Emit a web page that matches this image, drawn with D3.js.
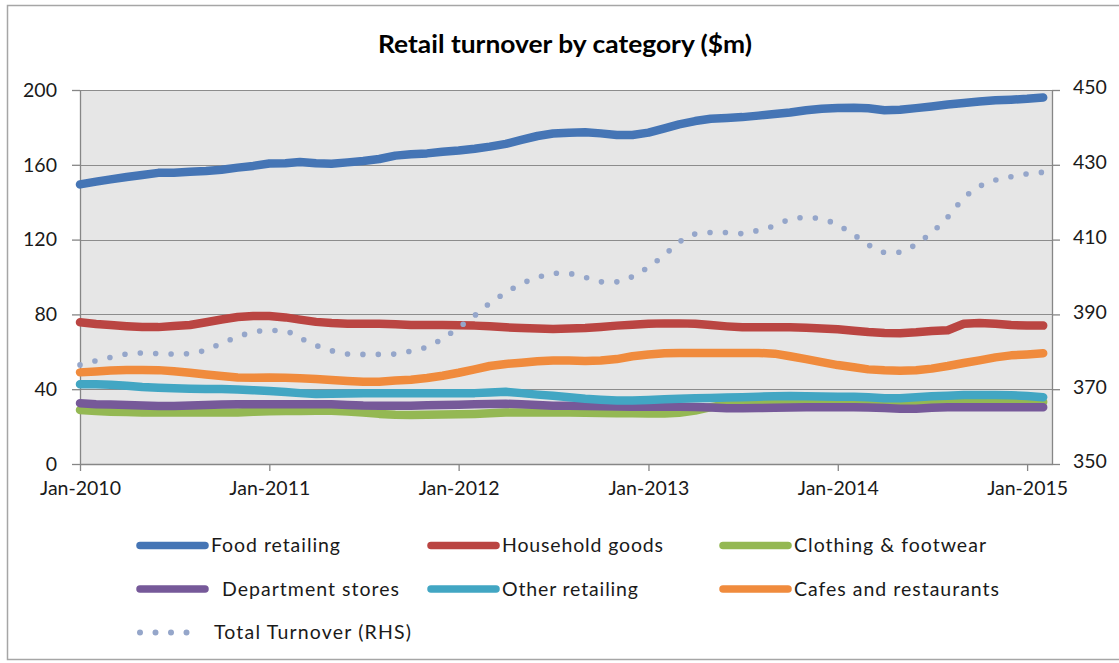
<!DOCTYPE html>
<html>
<head>
<meta charset="utf-8">
<script src="https://cdn.jsdelivr.net/npm/d3@7"></script>
<style>
  body { margin: 0; background: #ffffff; }
  svg text { font-family: Lato, "Open Sans", sans-serif; fill: #1a1a1a; }
</style>
</head>
<body>
<svg id="chart" width="1119" height="663"></svg>
<script>
// ---- data -------------------------------------------------------------
const chartTitle = "Retail turnover by category ($m)";
const firstMonth = new Date(2010, 0, 1);
const lastMonth = new Date(2015, 1, 1);
const axisEnd = new Date(2015, 1, 18);
const xTickLabels = ["Jan-2010", "Jan-2011", "Jan-2012", "Jan-2013", "Jan-2014", "Jan-2015"];
const leftTicks = [0, 40, 80, 120, 160, 200];
const rightTicks = [350, 370, 390, 410, 430, 450];

const foodRetailing = [149.5, 151, 152.2, 153.5, 154.5, 155.7, 155.8, 156.3, 156.7, 157.4,
  158.5, 159.4, 160.7, 160.8, 161.5, 160.8, 160.6, 161.3, 162, 163.1,
  164.9, 165.6, 166.1, 167, 167.7, 168.6, 169.7, 171.2, 173.3, 175.4,
  176.7, 177.2, 177.4, 176.8, 175.9, 175.9, 177.2, 179.5, 181.6, 183.4,
  184.6, 185, 185.5, 186.3, 187.2, 188, 189.2, 190, 190.4, 190.5,
  190.2, 189.2, 189.4, 190.3, 191.2, 192.2, 193, 193.8, 194.5, 194.8,
  195.3, 196];
const householdGoods = [75.8, 74.9, 74.3, 73.7, 73.3, 73.2, 73.8, 74.3, 75.8, 77.3,
  78.6, 79.2, 79.1, 78.4, 77.2, 76, 75.4, 75, 75, 75,
  74.7, 74.3, 74.3, 74.3, 74.2, 74, 73.6, 73.1, 72.7, 72.4,
  72.2, 72.4, 72.7, 73.3, 74, 74.5, 75, 75.2, 75.2, 75,
  74.3, 73.6, 73.1, 73.1, 73.1, 73.1, 72.9, 72.5, 72, 71.3,
  70.6, 70.1, 69.9, 70.4, 71.1, 71.5, 75, 75.4, 75, 74.3,
  74, 74];
const clothingFootwear = [28.9, 28.3, 28, 27.8, 27.6, 27.6, 27.6, 27.6, 27.6, 27.6,
  27.6, 27.9, 28.2, 28.3, 28.3, 28.5, 28.5, 28.1, 27.5, 26.8,
  26.4, 26.2, 26.3, 26.5, 26.6, 26.8, 27.1, 27.5, 27.6, 27.6,
  27.6, 27.5, 27.4, 27.3, 27.2, 27.1, 27, 27, 27.4, 28.6,
  30.4, 31.8, 32.6, 33, 33, 33, 33.1, 33.2, 33.3, 33.2,
  33, 32.8, 32.9, 33, 33.2, 33.3, 33.4, 33.4, 33.5, 33.4,
  33.3, 33.2];
const departmentStores = [32.5, 32, 31.8, 31.6, 31.3, 31, 31, 31.3, 31.6, 31.8,
  31.9, 31.9, 31.9, 31.9, 31.9, 32, 31.9, 31.6, 31.3, 31.2,
  31.2, 31.2, 31.4, 31.6, 31.7, 31.9, 32.1, 32.2, 31.9, 31.5,
  31.2, 31.1, 31, 30.9, 30.8, 30.6, 30.6, 30.6, 30.6, 30.5,
  30.2, 29.8, 29.8, 29.9, 30.1, 30.2, 30.3, 30.3, 30.3, 30.3,
  30.2, 29.9, 29.6, 29.6, 30.1, 30.4, 30.4, 30.4, 30.4, 30.4,
  30.4, 30.4];
const otherRetailing = [42.6, 42.6, 42.4, 41.8, 41.2, 40.8, 40.5, 40.3, 40.1, 40.1,
  39.9, 39.5, 39, 38.5, 37.9, 37.4, 37.6, 37.7, 37.8, 37.8,
  37.8, 37.8, 37.8, 37.8, 37.8, 37.9, 38.2, 38.6, 37.9, 37.1,
  36.5, 35.7, 34.9, 34.4, 34, 33.9, 34.2, 34.6, 34.9, 35.1,
  35.3, 35.5, 35.7, 36, 36.2, 36.3, 36.2, 36.1, 36, 36,
  35.7, 35.1, 35.1, 35.7, 36.2, 36.5, 36.9, 36.9, 36.9, 36.8,
  36.4, 35.7];
const cafesRestaurants = [49, 49.5, 50, 50.3, 50.3, 50.2, 49.6, 48.8, 47.9, 47.1,
  46.3, 46.1, 46.2, 46.1, 45.8, 45.4, 44.9, 44.4, 44, 44,
  44.6, 45.1, 46, 47.2, 48.8, 50.6, 52.4, 53.5, 54.2, 54.9,
  55.4, 55.3, 55.1, 55.3, 56.1, 57.6, 58.6, 59.2, 59.4, 59.4,
  59.4, 59.4, 59.4, 59.4, 59, 57.6, 56.1, 54.5, 52.9, 51.7,
  50.6, 50.1, 49.9, 50.1, 51, 52.4, 54, 55.4, 57, 58.1,
  58.6, 59.2];
const totalTurnover = [376.5, 377.6, 378.5, 379.4, 379.7, 379.5, 379.4, 379.5, 380.5, 382.3,
  384, 385.3, 385.7, 385.5, 383.7, 381.7, 380.3, 379.4, 379.3, 379.3,
  379.4, 380.2, 381.3, 383.5, 386.5, 389.7, 393, 395.8, 398.2, 399.8,
  401, 400.9, 399.9, 398.7, 398.7, 400.1, 402.7, 405.9, 409.3, 411.5,
  411.9, 411.9, 411.6, 412.5, 413.7, 415.4, 415.9, 415.5, 413.9, 411.3,
  408.6, 406.6, 406.6, 408.8, 411.9, 416, 421.1, 424.2, 425.9, 426.8,
  427.6, 428];

const months = d3.timeMonth.range(firstMonth, d3.timeMonth.offset(lastMonth, 1));

const categorySeries = [
  { name: "Food retailing", values: foodRetailing, color: "#4575b5" },
  { name: "Household goods", values: householdGoods, color: "#ba4542" },
  { name: "Clothing & footwear", values: clothingFootwear, color: "#94b853" },
  { name: "Department stores", values: departmentStores, color: "#765999" },
  { name: "Other retailing", values: otherRetailing, color: "#42a6c3" },
  { name: "Cafes and restaurants", values: cafesRestaurants, color: "#f08b3d" }
];
const totalSeries = { name: "Total Turnover (RHS)", values: totalTurnover, color: "#95a6ca" };

// ---- layout -----------------------------------------------------------
const svg = d3.select("#chart");
const plot = { left: 80, right: 1052, top: 90, bottom: 464 };
const axisColor = "#868686";

const x = d3.scaleTime().domain([firstMonth, axisEnd]).range([plot.left, plot.right]);
const yLeft = d3.scaleLinear().domain([0, 200]).range([plot.bottom, plot.top]);
const yRight = d3.scaleLinear().domain([350, 450]).range([plot.bottom, plot.top]);

// outer chart frame
svg.append("rect")
  .attr("x", 7.5).attr("y", 5.5)
  .attr("width", 1130).attr("height", 654)
  .attr("fill", "#ffffff")
  .attr("stroke", "#a6a6a6").attr("stroke-width", 1.5);

// title
svg.append("text")
  .attr("x", 378).attr("y", 53)
  .attr("textLength", 374)
  .attr("lengthAdjust", "spacingAndGlyphs")
  .style("font-size", "24px").style("font-weight", "bold")
  .style("fill", "#000")
  .text(chartTitle);

// plot area background
svg.append("rect")
  .attr("x", plot.left).attr("y", plot.top)
  .attr("width", plot.right - plot.left).attr("height", plot.bottom - plot.top)
  .attr("fill", "#e6e6e6");

// horizontal gridlines
svg.append("g").selectAll("line")
  .data(leftTicks.filter(d => d > 0))
  .join("line")
  .attr("x1", plot.left).attr("x2", plot.right)
  .attr("y1", d => Math.round(yLeft(d)) + 0.5).attr("y2", d => Math.round(yLeft(d)) + 0.5)
  .attr("stroke", "#8c8c8c").attr("stroke-width", 1.2);

// axes
const janDates = xTickLabels.map(s => d3.timeParse("%b-%Y")(s));
const xAxis = d3.axisBottom(x)
  .tickValues(janDates)
  .tickFormat(d3.timeFormat("%b-%Y"))
  .tickSize(7).tickSizeOuter(0).tickPadding(10);
const leftAxis = d3.axisLeft(yLeft).tickValues(leftTicks).tickSize(8).tickSizeOuter(0).tickPadding(15);
const rightAxis = d3.axisRight(yRight).tickValues(rightTicks).tickSize(8).tickSizeOuter(0).tickPadding(13);

function styleAxis(g) {
  g.select(".domain").attr("stroke", axisColor).attr("stroke-width", 1.3);
  g.selectAll(".tick line").attr("stroke", axisColor).attr("stroke-width", 1.3);
  g.selectAll(".tick text").style("font-size", "19.5px").style("font-family", "Lato, sans-serif").attr("fill", "#1a1a1a");
}

svg.append("g").attr("transform", `translate(0,${plot.bottom})`).call(xAxis).call(styleAxis);
svg.append("g").attr("transform", `translate(${plot.left},0)`).call(leftAxis).call(styleAxis);
const gr = svg.append("g").attr("transform", `translate(${plot.right},0)`).call(rightAxis).call(styleAxis);
gr.selectAll(".tick text").attr("dy", "0.2em");

// category lines (left axis)
const lineLeft = d3.line()
  .x((d, i) => x(months[i]))
  .y(d => yLeft(d));

svg.append("g").selectAll("path")
  .data(categorySeries)
  .join("path")
  .attr("d", d => lineLeft(d.values))
  .attr("fill", "none")
  .attr("stroke", d => d.color)
  .attr("stroke-width", 8.5)
  .attr("stroke-linejoin", "round")
  .attr("stroke-linecap", "round");

// total turnover (right axis), round dotted
const lineRight = d3.line()
  .curve(d3.curveMonotoneX)
  .x((d, i) => x(months[i]))
  .y(d => yRight(d));

svg.append("path")
  .attr("d", lineRight(totalSeries.values))
  .attr("fill", "none")
  .attr("stroke", totalSeries.color)
  .attr("stroke-width", 5.6)
  .attr("stroke-linecap", "round")
  .attr("stroke-dasharray", "0 15.4");

// legend
const legendEntries = [
  { s: categorySeries[0], label: "Food retailing", col: 0, row: 0, w: 129 },
  { s: categorySeries[1], label: "Household goods", col: 1, row: 0, w: 161 },
  { s: categorySeries[2], label: "Clothing & footwear", col: 2, row: 0, w: 192 },
  { s: categorySeries[3], label: "Department stores", col: 0, row: 1, w: 177, indent: 11 },
  { s: categorySeries[4], label: "Other retailing", col: 1, row: 1, w: 136 },
  { s: categorySeries[5], label: "Cafes and restaurants", col: 2, row: 1, w: 205 },
  { s: totalSeries, label: "Total Turnover (RHS)", col: 0, row: 2, w: 197, dotted: true }
];
const colX = [140, 431, 723];
const rowY = [545.5, 589, 632.5];

const lg = svg.append("g").selectAll("g")
  .data(legendEntries)
  .join("g")
  .attr("transform", d => `translate(${colX[d.col]},${rowY[d.row]})`);

lg.append("line")
  .attr("x1", 0).attr("x2", d => d.dotted ? 62 : 65)
  .attr("y1", 0).attr("y2", 0)
  .attr("stroke", d => d.s.color)
  .attr("stroke-width", d => d.dotted ? 6 : 7.5)
  .attr("stroke-linecap", "round")
  .attr("stroke-dasharray", d => d.dotted ? "0 15.5" : null);

lg.append("text")
  .attr("x", d => (d.dotted ? 74 : 71) + (d.indent || 0))
  .attr("y", 0)
  .attr("dy", "0.35em")
  .attr("textLength", d => d.w)
  .attr("lengthAdjust", "spacing")
  .style("font-size", "19.5px")
  .text(d => d.label);
</script>
</body>
</html>
